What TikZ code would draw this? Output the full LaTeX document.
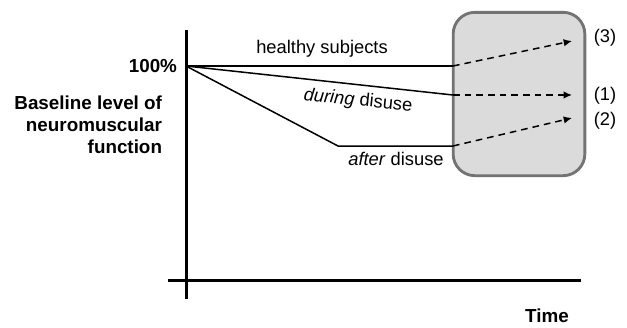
\documentclass[tikz,border=0pt]{standalone}
\usepackage{fontspec}
\setmainfont{Liberation Sans}
\usetikzlibrary{positioning, arrows.meta}
\tikzset{
	axis/.style={line width=1.8pt},
	trend/.style={line width=0.9pt},
	future/.style={line width=0.9pt, dashed, dash pattern=on 4pt off 3pt},
	window/.style={draw=black!55, line width=1.7pt, fill=black!14, rounded corners=13pt, minimum width=79pt, minimum height=98pt, inner sep=0pt},
	label/.style={font=\fontsize{11}{13}\selectfont, inner sep=1pt},
	axlabel/.style={font=\fontsize{11.3}{13.2}\selectfont\bfseries, inner sep=1pt}
}
\begin{document}
\begin{tikzpicture}[x=0.6pt, y=-0.6pt]
	\useasboundingbox (0,0) rectangle (627,327);
	
	% recovery window
	\node (box) [window] at (519,94) {};
	
	% axes
	\coordinate (ytop) at (186,30);
	\coordinate (ybot) at (186,299);
	\coordinate (xleft) at (168,280);
	\coordinate (xright) at (581,280);
	\draw[axis] (ytop) -- (ybot);
	\draw[axis] (xleft) -- (xright);
	
	% trajectories
	\coordinate (start) at (186,66);
	\coordinate (h1) at (453,66);
	\coordinate (d1) at (453,95);
	\coordinate (a0) at (338,146);
	\coordinate (a1) at (453,146);
	\coordinate (e3) at (572,41);
	\coordinate (e1) at (572,95);
	\coordinate (e2) at (572,118);
	
	\draw[trend] (start) -- (h1);
	\draw[trend] (start) -- (d1);
	\draw[trend] (start) -- (a0) -- (a1);
	
	\begin{scope}[future, ->, >={Latex[length=5pt, width=4.5pt]}]
		\draw (h1) -- (e3);
		\draw (d1) -- (e1);
		\draw (a1) -- (e2);
	\end{scope}
	
	% labels
	\node (healthy) [label] at (322,49) {healthy subjects};
	\node (during) [label, rotate=-6] at (358,101) {\textit{during} disuse};
	\node (after) [label] at (396,159) {\textit{after} disuse};
	\node (o3) [label] at (605,38) {(3)};
	\node (o1) [label] at (605,96) {(1)};
	\node (o2) [label] at (605,121) {(2)};
	
	\node (full) [axlabel, anchor=east] at (179,66) {100\%};
	\node (ylab) [axlabel, align=right, anchor=east] at (164,125) {Baseline level of\\neuromuscular\\function};
	\node (xlab) [axlabel] at (547,316) {Time};
\end{tikzpicture}
\end{document}
